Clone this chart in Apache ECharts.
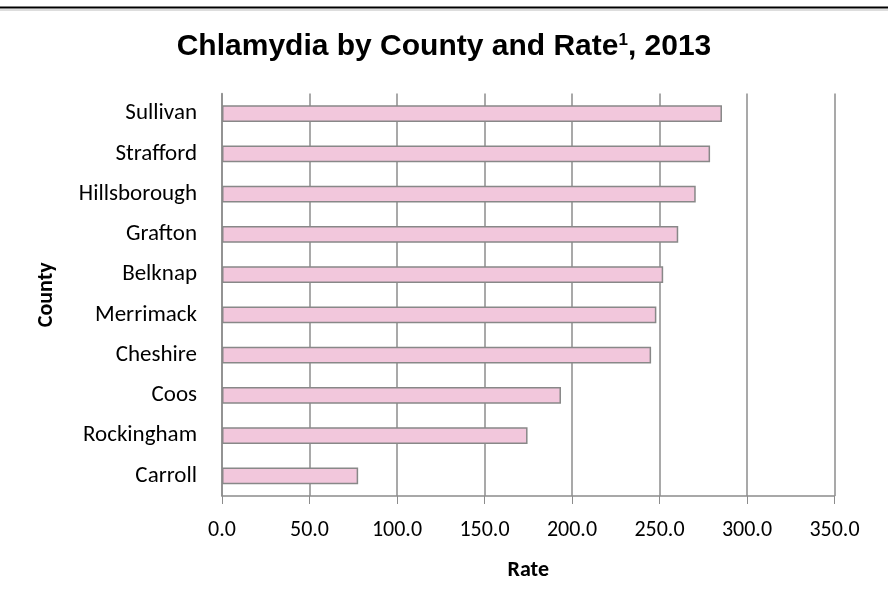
<!DOCTYPE html>
<html>
<head>
<meta charset="utf-8">
<script src="https://cdn.jsdelivr.net/npm/echarts@6/dist/echarts.min.js"></script>
<style>
  html, body { margin: 0; padding: 0; background: #fff; }
  #chart { width: 888px; height: 607px; }
</style>
</head>
<body>
<div id="chart"></div>
<script>
// counties, bottom to top as the category axis draws them
const counties = ['Carroll', 'Rockingham', 'Coos', 'Cheshire', 'Merrimack', 'Belknap', 'Grafton', 'Hillsborough', 'Strafford', 'Sullivan'];
const rates = [77.8, 174.6, 193.7, 245.2, 248.2, 252.1, 260.7, 270.7, 278.9, 285.7];

const LABEL_FONT = 'Carlito, Lato, "Open Sans", sans-serif';
const TITLE_FONT = '"Liberation Sans", Arial, sans-serif';
const GRID_GRAY = '#8c8c8c';

const chart = echarts.init(document.getElementById('chart'));

chart.setOption({
  backgroundColor: '#fff',
  animation: false,
  title: {
    text: '{t|Chlamydia by County and Rate}{s|1}{t|, 2013}',
    left: 'center',
    top: 27,
    textStyle: {
      rich: {
        t: { fontFamily: TITLE_FONT, fontWeight: 'bold', fontSize: 30, color: '#000', verticalAlign: 'bottom' },
        s: { fontFamily: TITLE_FONT, fontWeight: 'bold', fontSize: 17, color: '#000', verticalAlign: 'top', padding: [0, 0, 12, 0] }
      }
    }
  },
  graphic: [
    { type: 'line', shape: { x1: 0, y1: 7.5, x2: 888, y2: 7.5 }, style: { stroke: '#000', lineWidth: 2 } },
    { type: 'line', shape: { x1: 0, y1: 10, x2: 888, y2: 10 }, style: { stroke: '#bbb', lineWidth: 1 } }
  ],
  grid: { left: 222, right: 53.5, top: 93.5, bottom: 111, containLabel: false },
  xAxis: {
    type: 'value',
    min: 0,
    max: 350,
    interval: 50,
    name: 'Rate',
    nameLocation: 'middle',
    nameGap: 63,
    nameTextStyle: { fontFamily: LABEL_FONT, fontWeight: 'bold', fontSize: 22, color: '#000' },
    axisLine: { show: true, lineStyle: { color: GRID_GRAY, width: 1.5 } },
    axisTick: { show: true, length: 8, lineStyle: { color: GRID_GRAY, width: 1 } },
    axisLabel: {
      fontFamily: LABEL_FONT, fontSize: 22, color: '#000', margin: 23,
      formatter: (v) => v.toFixed(1)
    },
    splitLine: { show: true, lineStyle: { color: GRID_GRAY, width: 1.5 } }
  },
  yAxis: {
    type: 'category',
    data: counties,
    name: 'County',
    nameLocation: 'middle',
    nameGap: 165,
    nameRotate: 90,
    nameTextStyle: { fontFamily: LABEL_FONT, fontWeight: 'bold', fontSize: 22, color: '#000' },
    axisLine: { show: true, lineStyle: { color: GRID_GRAY, width: 1.5 } },
    axisTick: { show: false },
    axisLabel: { fontFamily: LABEL_FONT, fontSize: 23, color: '#000', margin: 25 },
    splitLine: { show: false }
  },
  series: [{
    type: 'bar',
    data: rates,
    barWidth: '42%',
    itemStyle: { color: '#f2c7dc', borderColor: '#888', borderWidth: 1.5 }
  }]
});
</script>
</body>
</html>
